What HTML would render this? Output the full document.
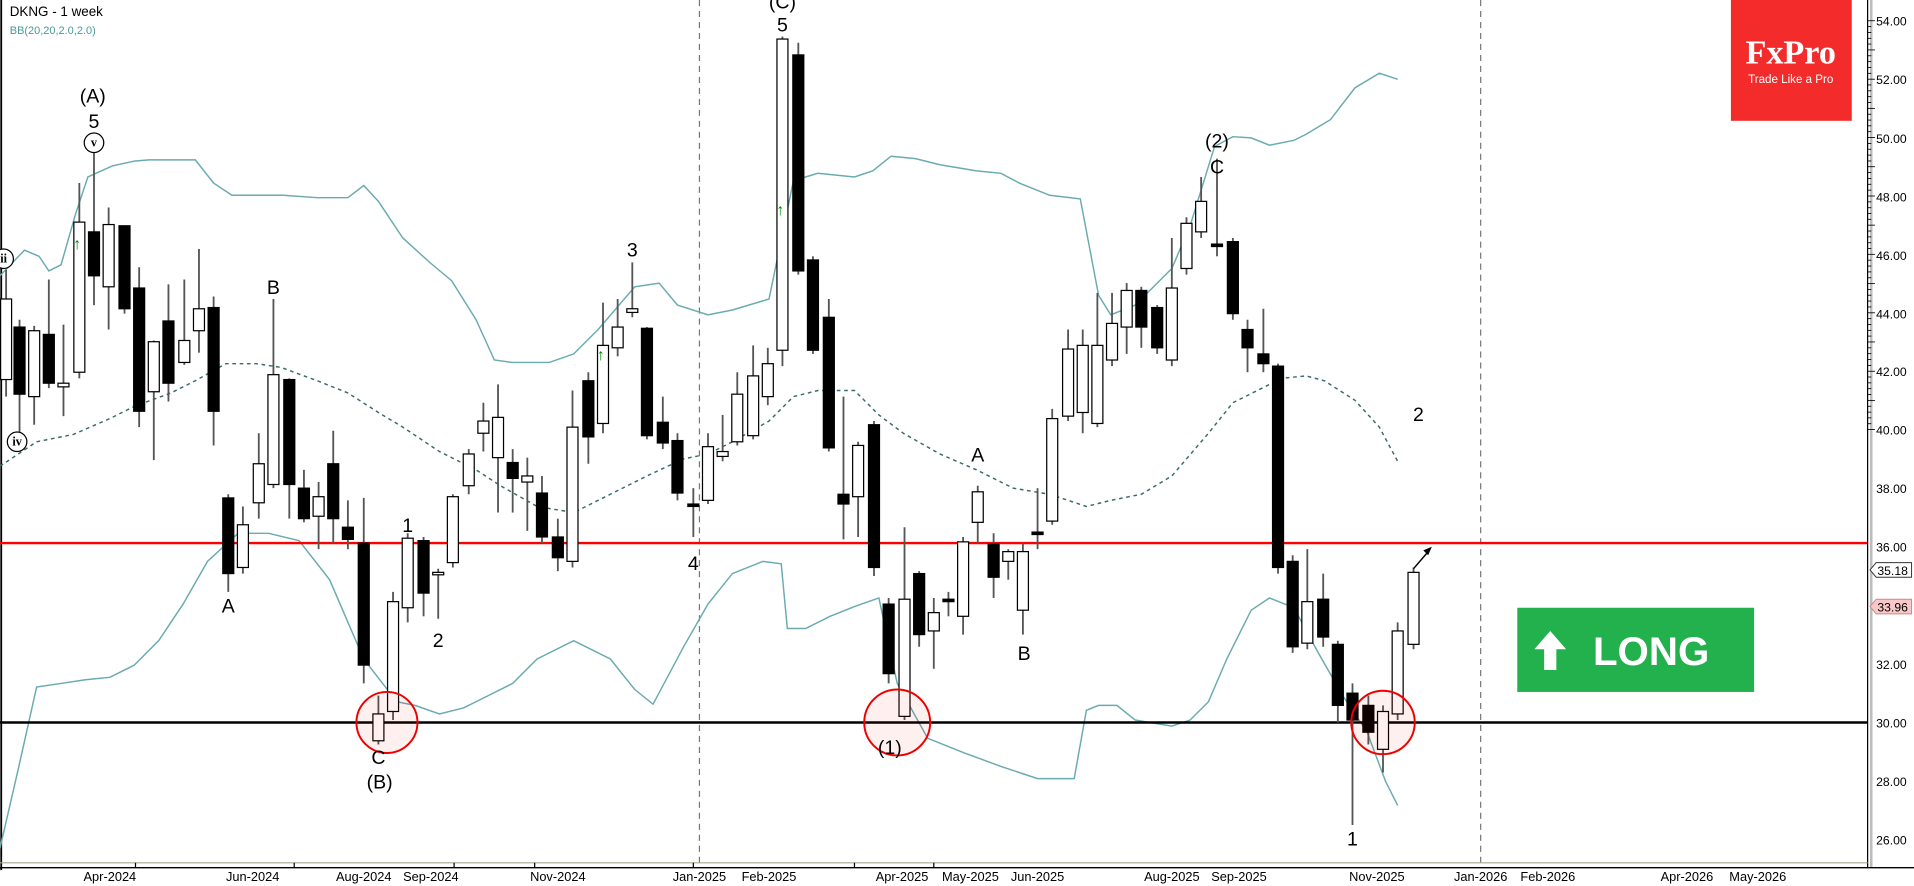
<!DOCTYPE html>
<html><head><meta charset="utf-8"><style>
html,body{margin:0;padding:0;background:#fff;}
svg{display:block;}
text{font-family:"Liberation Sans",sans-serif;}
</style></head><body>
<svg id="s" width="1914" height="886" viewBox="0 0 1568 726" preserveAspectRatio="none" xmlns="http://www.w3.org/2000/svg">
<rect x="0" y="0" width="1568" height="726" fill="#fff"/>
<line x1="1" y1="0" x2="1" y2="713" stroke="#000" stroke-width="1.5"/>
<line x1="573" y1="0" x2="573" y2="711" stroke="#777" stroke-dasharray="5,4"/>
<line x1="1213" y1="0" x2="1213" y2="711" stroke="#777" stroke-dasharray="5,4"/>
<g id="bands" fill="none" stroke="#6aabb0" stroke-width="1.2">
<polyline points="0,226 20,205 32,210 40,222 50,217 62,175 72,145 92,136 110,132 122,131 160,131 175,150 190,160 232,160 260,162 285,162 298,152 310,165 330,195 352,215 370,230 390,262 405,295 420,297 450,297 470,290 490,270 520,235 540,232 555,250 580,258 600,254 630,245 650,148 670,142 700,145 715,140 730,128 750,130 770,135 800,140 820,142 835,150 860,160 885,163 900,242 910,258 930,250 960,220 975,185 995,120 1010,112 1025,113 1040,119 1060,115 1070,110 1090,98 1110,72 1130,60 1145,65"/>
<polyline stroke="#3a6a6a" stroke-dasharray="3,3" points="0,382 30,362 60,356 90,343 110,333 140,322 160,312 185,298 210,298 230,301 260,312 285,322 310,338 330,350 360,370 390,385 410,398 440,415 470,420 500,405 530,390 560,376 580,372 600,362 630,345 650,325 670,320 700,320 720,340 740,355 770,372 800,385 830,400 860,405 890,415 910,410 935,405 960,390 990,355 1010,330 1030,320 1050,310 1070,308 1085,312 1110,328 1130,350 1145,378"/>
<polyline points="0,695 15,630 30,563 50,560 70,557 90,555 110,545 130,525 150,495 170,460 195,437 220,437 245,443 270,475 298,540 325,575 340,578 360,585 380,580 400,570 420,560 440,540 470,525 500,540 520,565 535,577 560,530 580,495 600,470 625,460 640,462 645,515 660,515 680,505 700,497 720,490 735,560 760,605 790,617 820,628 850,638 880,638 890,582 900,578 915,578 930,590 960,595 975,590 990,575 1005,540 1025,500 1040,490 1060,498 1080,535 1100,570 1120,600 1135,640 1145,660"/>
</g>
<line x1="0" y1="445" x2="1530" y2="445" stroke="#f00" stroke-width="2"/>
<line x1="0" y1="592" x2="1530" y2="592" stroke="#000" stroke-width="2"/>
<g id="candles"></g>
<g fill="none" stroke="#e00" stroke-width="1.6">
<circle cx="317" cy="592" r="25" fill="rgba(255,0,0,0.06)"/>
<circle cx="735" cy="592" r="27" fill="rgba(255,0,0,0.06)"/>
<circle cx="1133" cy="592" r="26" fill="rgba(255,0,0,0.06)"/>
</g>
<line x1="1158" y1="466" x2="1170" y2="452" stroke="#000" stroke-width="1.2"/>
<polygon points="1173,448 1166,451 1170,455" fill="#000"/>
<g fill="#080" font-size="13" font-weight="bold">
<text x="60" y="204">↑</text><text x="489" y="295">↑</text><text x="636" y="176">↑</text>
</g>
<g font-size="16" fill="#000" text-anchor="middle">
<text x="76" y="84">(A)</text><text x="77" y="105">5</text>
<text x="224" y="241">B</text><text x="187" y="502">A</text>
<text x="334" y="436">1</text><text x="359" y="530">2</text>
<text x="310" y="626">C</text><text x="311" y="646">(B)</text>
<text x="518" y="210">3</text><text x="568" y="467">4</text>
<text x="641" y="7">(C)</text><text x="641" y="26">5</text>
<text x="801" y="378">A</text><text x="839" y="541">B</text>
<text x="729" y="618">(1)</text>
<text x="997" y="121">(2)</text><text x="997" y="142">C</text>
<text x="1108" y="693">1</text><text x="1162" y="345">2</text>
</g>
<g fill="#fff" stroke="#000" stroke-width="1"><circle cx="77" cy="117" r="8"/><circle cx="3" cy="212" r="8"/><circle cx="14" cy="362" r="8"/></g>
<g font-size="10" text-anchor="middle" style="font-family:'Liberation Serif',serif;font-weight:bold"><text x="77" y="120" style="font-family:'Liberation Serif',serif">v</text><text x="3" y="215" style="font-family:'Liberation Serif',serif">ii</text><text x="14" y="365" style="font-family:'Liberation Serif',serif">iv</text></g>
<text x="8" y="13" font-size="11" fill="#000">DKNG - 1 week</text>
<text x="8" y="28" font-size="9" fill="#4a9a9a">BB(20,20,2.0,2.0)</text>
<rect x="1418" y="0" width="99" height="99" fill="#f32b2b"/>
<text x="1467" y="52" font-size="28" fill="#fff" text-anchor="middle" style="font-family:'Liberation Serif',serif;font-weight:bold">FxPro</text>
<text x="1467" y="68" font-size="9.5" fill="#fff" text-anchor="middle">Trade Like a Pro</text>
<rect x="1243" y="498" width="194" height="69" fill="#22b14c"/>
<polygon points="1270,517 1257,532 1265,532 1265,549 1275,549 1275,532 1283,532" fill="#fff"/>
<text x="1305" y="545" font-size="33" font-weight="bold" fill="#fff">LONG</text>
<rect x="1530" y="0" width="38" height="726" fill="#fff"/>
<line x1="1530" y1="0" x2="1530" y2="711" stroke="#000" stroke-width="1"/>
<line x1="1533" y1="0" x2="1533" y2="711" stroke="#bbb" stroke-width="2"/>
<g id="ticks" stroke="#000" stroke-width="0.7"></g>
<g font-size="10" fill="#000">
<text x="1537" y="21">54.00</text><text x="1537" y="69">52.00</text><text x="1537" y="117">50.00</text><text x="1537" y="165">48.00</text><text x="1537" y="213">46.00</text><text x="1537" y="261">44.00</text><text x="1537" y="308">42.00</text><text x="1537" y="356">40.00</text><text x="1537" y="404">38.00</text><text x="1537" y="452">36.00</text><text x="1537" y="548">32.00</text><text x="1537" y="596">30.00</text><text x="1537" y="644">28.00</text><text x="1537" y="692">26.00</text>
</g>
<polygon points="1532,467 1537,461 1566,461 1566,473 1537,473" fill="#fff" stroke="#333" stroke-width="0.8"/>
<text x="1538" y="471" font-size="10">35.18</text>
<polygon points="1532,497 1537,491 1566,491 1566,503 1537,503" fill="#f8c8c8" stroke="#c88" stroke-width="0.8"/>
<text x="1538" y="501" font-size="10">33.96</text>
<line x1="0" y1="707" x2="1530" y2="707" stroke="#a8a890" stroke-width="1"/>
<line x1="0" y1="711" x2="1568" y2="711" stroke="#000" stroke-width="1.2"/>
<g stroke="#000" stroke-width="1">
<line x1="111" y1="707" x2="111" y2="711"/><line x1="241" y1="707" x2="241" y2="711"/><line x1="372" y1="707" x2="372" y2="711"/><line x1="438" y1="707" x2="438" y2="711"/><line x1="568" y1="707" x2="568" y2="711"/><line x1="700" y1="707" x2="700" y2="711"/><line x1="765" y1="707" x2="765" y2="711"/>
</g>
<g font-size="10.5" fill="#000" text-anchor="middle">
<text x="90" y="722">Apr-2024</text><text x="207" y="722">Jun-2024</text><text x="298" y="722">Aug-2024</text><text x="353" y="722">Sep-2024</text><text x="457" y="722">Nov-2024</text><text x="573" y="722">Jan-2025</text><text x="630" y="722">Feb-2025</text><text x="739" y="722">Apr-2025</text><text x="795" y="722">May-2025</text><text x="850" y="722">Jun-2025</text><text x="960" y="722">Aug-2025</text><text x="1015" y="722">Sep-2025</text><text x="1128" y="722">Nov-2025</text><text x="1213" y="722">Jan-2026</text><text x="1268" y="722">Feb-2026</text><text x="1382" y="722">Apr-2026</text><text x="1440" y="722">May-2026</text>
</g>
</svg>
<script>
var C=[
[5,221,245,311,325,1],[16,262,268,323,354,0],[28,267,271,325,348,1],[40,229,274,314,318,0],[52,266,314,317,341,1],
[65,150,182,305,310,1],[77,123,190,226,250,0],[89,170,184,235,270,1],[102,185,185,253,257,0],[114,219,236,337,350,0],
[126,279,280,321,377,1],[138,233,263,314,329,0],[151,229,279,297,299,1],[163,204,253,271,289,1],[175,243,252,337,365,0],
[187,405,408,470,485,0],[199,415,430,465,470,1],[212,355,380,412,425,1],[224,245,307,397,400,1],[237,310,311,397,425,0],
[249,385,400,425,428,0],[261,395,407,423,450,1],[273,353,380,425,445,0],[285,410,432,442,450,0],[298,408,445,545,560,0],
[310,570,585,607,610,1],[322,485,493,583,590,1],[334,437,441,498,510,1],[347,440,443,486,505,0],[359,466,469,471,507,1],
[371,405,407,461,465,1],[384,368,372,398,405,1],[396,330,345,355,370,1],[408,315,342,375,420,1],[420,368,379,392,420,0],
[432,375,390,395,435,1],[444,390,404,440,445,0],[457,425,440,457,468,0],[469,320,350,460,465,1],[482,305,312,358,380,0],
[494,248,283,347,355,1],[506,245,268,285,292,1],[518,215,253,256,260,1],[530,268,269,357,360,0],[543,325,346,363,368,0],
[555,355,361,404,410,0],[568,400,413,415,440,0],[580,355,366,410,413,1],[592,340,370,374,378,1],[604,305,323,362,365,1],
[617,283,308,357,360,1],[629,285,298,325,332,1],[641,30,32,287,300,1],[654,35,45,222,225,0],[666,210,213,287,290,0],
[679,245,260,367,370,0],[691,325,405,413,442,0],[703,362,365,407,440,1],[716,345,348,465,472,0],[728,490,495,552,560,0],
[741,432,491,587,590,1],[753,468,470,520,530,0],[765,490,502,517,548,1],[777,485,491,493,505,0],[789,440,444,505,520,1],
[801,398,403,428,445,1],[814,437,446,473,490,0],[826,450,452,460,475,1],[838,445,452,500,520,1],[850,400,436,438,450,0],
[862,335,343,427,430,1],[875,270,286,341,345,1],[887,270,283,338,355,1],[899,240,283,347,350,1],[911,240,265,295,300,1],
[923,232,238,268,290,1],[935,235,238,268,285,0],[948,250,252,285,290,0],[960,195,236,295,300,1],[972,178,183,220,225,1],
[984,145,165,190,195,1],[997,130,200,202,210,0],[1010,195,198,257,262,0],[1022,262,270,285,305,0],[1035,253,290,298,305,0],
[1047,298,300,465,470,0],[1059,455,460,530,535,0],[1071,450,493,527,532,1],[1084,470,491,522,530,0],[1096,525,528,578,592,0],
[1108,560,568,590,676,0],[1121,570,578,600,610,0],[1133,578,583,614,633,1],[1145,510,517,585,590,1],[1158,465,469,528,532,1]];
var g=document.getElementById('candles'),h='';
C.forEach(function(c){h+='<line x1="'+c[0]+'" y1="'+c[1]+'" x2="'+c[0]+'" y2="'+c[4]+'" stroke="#555" stroke-width="1.5"/>';
h+='<rect x="'+(c[0]-4.5)+'" y="'+c[2]+'" width="9" height="'+Math.max(1.5,c[3]-c[2])+'" fill="'+(c[5]?'#fff':'#000')+'" stroke="#000" stroke-width="1"/>';});
g.innerHTML=h;
var t=document.getElementById('ticks'),s='';
for(var i=0;i<=70;i++){var y=17+i*4.786;var L=(i%5==0)?6:3;s+='<line x1="1530" y1="'+y.toFixed(1)+'" x2="'+(1530+L)+'" y2="'+y.toFixed(1)+'"/>';}
t.innerHTML=s;
</script>
</body></html>
